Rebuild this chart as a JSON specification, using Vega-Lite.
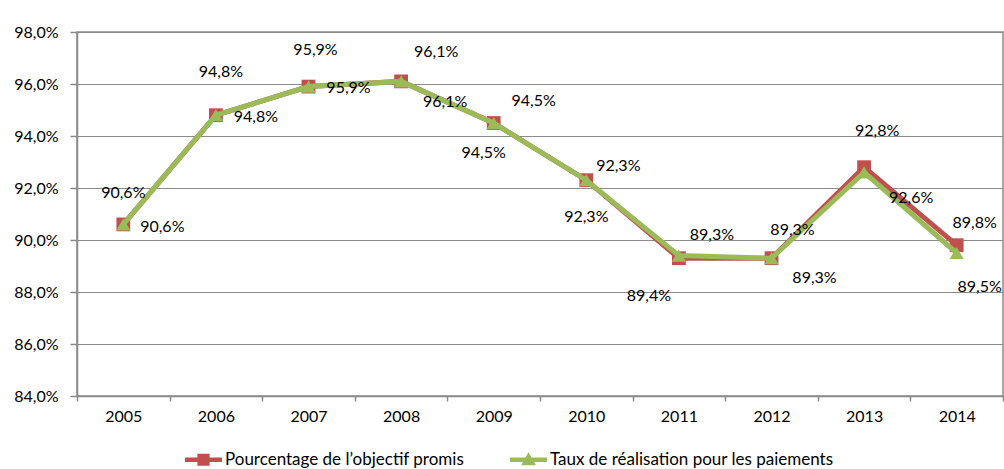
{
  "$schema": "https://vega.github.io/schema/vega-lite/v6.json",
  "autosize": {"type": "none"},
  "width": 926,
  "height": 364,
  "padding": {"left": 77, "top": 32, "right": 1, "bottom": 73},
  "background": "white",
  "config": {
    "locale": {"number": {"decimal": ",", "thousands": " ", "grouping": [3], "currency": ["", " €"], "percent": "%"}},
    "font": "Lato",
    "view": {"stroke": "#8a8a8a", "strokeWidth": 1.5},
    "axis": {
      "labelFont": "Lato", "labelFontSize": 16, "labelColor": "#000000",
      "domainColor": "#8a8a8a", "domainWidth": 1.5, "tickColor": "#8a8a8a", "tickWidth": 1.5,
      "gridColor": "#8a8a8a", "gridWidth": 1.2, "title": null
    },
    "legend": {"labelFont": "Lato", "labelFontSize": 17, "labelColor": "#000000", "labelLimit": 400}
  },
  "datasets": {
    "objectif": [
      {"annee": "2005", "valeur": 0.906},
      {"annee": "2006", "valeur": 0.948},
      {"annee": "2007", "valeur": 0.959},
      {"annee": "2008", "valeur": 0.961},
      {"annee": "2009", "valeur": 0.945},
      {"annee": "2010", "valeur": 0.923},
      {"annee": "2011", "valeur": 0.893},
      {"annee": "2012", "valeur": 0.893},
      {"annee": "2013", "valeur": 0.928},
      {"annee": "2014", "valeur": 0.898}
    ],
    "paiements": [
      {"annee": "2005", "valeur": 0.906},
      {"annee": "2006", "valeur": 0.948},
      {"annee": "2007", "valeur": 0.959},
      {"annee": "2008", "valeur": 0.961},
      {"annee": "2009", "valeur": 0.945},
      {"annee": "2010", "valeur": 0.923},
      {"annee": "2011", "valeur": 0.894},
      {"annee": "2012", "valeur": 0.893},
      {"annee": "2013", "valeur": 0.926},
      {"annee": "2014", "valeur": 0.895}
    ],
    "series": [
      {"serie": "Pourcentage de l’objectif promis"},
      {"serie": "Taux de réalisation pour les paiements"}
    ]
  },
  "encoding": {
    "x": {
      "field": "annee", "type": "ordinal",
      "scale": {"type": "band", "paddingInner": 0, "paddingOuter": 0},
      "axis": {"labelAngle": 0, "tickBand": "extent", "tickSize": 5, "labelPadding": 7, "grid": false}
    },
    "y": {
      "field": "valeur", "type": "quantitative",
      "scale": {"domain": [0.84, 0.98], "nice": false, "zero": false},
      "axis": {"values": [0.84, 0.86, 0.88, 0.9, 0.92, 0.94, 0.96, 0.98], "format": ".1%", "tickSize": 7, "labelPadding": 12, "grid": true}
    },
    "text": {"field": "valeur", "type": "quantitative", "format": ".1%"}
  },
  "layer": [
    {"data": {"name": "objectif"}, "mark": {"type": "line", "color": "#C0504D", "strokeWidth": 5}, "encoding": {}},
    {"data": {"name": "objectif"}, "mark": {"type": "point", "shape": "square", "filled": true, "opacity": 1, "color": "#C0504D", "size": 190}, "encoding": {}},
    {"data": {"name": "paiements"}, "mark": {"type": "line", "color": "#9BBB59", "strokeWidth": 5}, "encoding": {}},
    {"data": {"name": "paiements"}, "mark": {"type": "point", "shape": "triangle-up", "filled": true, "opacity": 1, "color": "#9BBB59", "size": 200}, "encoding": {}},
    {
      "data": {"name": "series"},
      "mark": {"type": "point", "filled": true, "opacity": 0},
      "encoding": {
        "x": null, "y": null, "text": null,
        "color": {
          "field": "serie", "type": "nominal",
          "scale": {"range": ["#C0504D", "#9BBB59"]},
          "legend": {"title": null, "orient": "none", "direction": "horizontal", "legendX": 108, "legendY": 409, "symbolOpacity": 1, "symbolSize": 1369, "symbolStrokeWidth": 0, "labelOffset": 3, "columnPadding": 45, "padding": 0}
        },
        "shape": {
          "field": "serie", "type": "nominal",
          "scale": {"range": [
            "M-1,-0.12H1V0.12H-1Z M-0.33,-0.33H0.33V0.33H-0.33Z",
            "M-1,-0.12H1V0.12H-1Z M0,-0.4L0.4,0.3L-0.4,0.3Z"
          ]},
          "legend": {"title": null, "orient": "none", "direction": "horizontal", "legendX": 108, "legendY": 409, "symbolOpacity": 1, "symbolSize": 1369, "symbolStrokeWidth": 0, "labelOffset": 3, "columnPadding": 45, "padding": 0}
        }
      }
    },
    {"data": {"name": "objectif"}, "transform": [{"filter": "datum.annee == '2005'"}], "mark": {"type": "text", "fontSize": 16, "dx": 0, "dy": -31}},
    {"data": {"name": "objectif"}, "transform": [{"filter": "datum.annee == '2006'"}], "mark": {"type": "text", "fontSize": 16, "dx": 5, "dy": -43}},
    {"data": {"name": "objectif"}, "transform": [{"filter": "datum.annee == '2007'"}], "mark": {"type": "text", "fontSize": 16, "dx": 7, "dy": -37}},
    {"data": {"name": "objectif"}, "transform": [{"filter": "datum.annee == '2008'"}], "mark": {"type": "text", "fontSize": 16, "dx": 35, "dy": -29}},
    {"data": {"name": "objectif"}, "transform": [{"filter": "datum.annee == '2009'"}], "mark": {"type": "text", "fontSize": 16, "dx": 40, "dy": -22}},
    {"data": {"name": "objectif"}, "transform": [{"filter": "datum.annee == '2010'"}], "mark": {"type": "text", "fontSize": 16, "dx": 32, "dy": -14}},
    {"data": {"name": "objectif"}, "transform": [{"filter": "datum.annee == '2011'"}], "mark": {"type": "text", "fontSize": 16, "dx": 33, "dy": -23}},
    {"data": {"name": "objectif"}, "transform": [{"filter": "datum.annee == '2012'"}], "mark": {"type": "text", "fontSize": 16, "dx": 21, "dy": -28}},
    {"data": {"name": "objectif"}, "transform": [{"filter": "datum.annee == '2013'"}], "mark": {"type": "text", "fontSize": 16, "dx": 13, "dy": -36}},
    {"data": {"name": "objectif"}, "transform": [{"filter": "datum.annee == '2014'"}], "mark": {"type": "text", "fontSize": 16, "dx": 18, "dy": -22}},
    {"data": {"name": "paiements"}, "transform": [{"filter": "datum.annee == '2005'"}], "mark": {"type": "text", "fontSize": 16, "dx": 39, "dy": 3}},
    {"data": {"name": "paiements"}, "transform": [{"filter": "datum.annee == '2006'"}], "mark": {"type": "text", "fontSize": 16, "dx": 40, "dy": 2}},
    {"data": {"name": "paiements"}, "transform": [{"filter": "datum.annee == '2007'"}], "mark": {"type": "text", "fontSize": 16, "dx": 40, "dy": 1}},
    {"data": {"name": "paiements"}, "transform": [{"filter": "datum.annee == '2008'"}], "mark": {"type": "text", "fontSize": 16, "dx": 44, "dy": 21}},
    {"data": {"name": "paiements"}, "transform": [{"filter": "datum.annee == '2009'"}], "mark": {"type": "text", "fontSize": 16, "dx": -10, "dy": 30}},
    {"data": {"name": "paiements"}, "transform": [{"filter": "datum.annee == '2010'"}], "mark": {"type": "text", "fontSize": 16, "dx": 0, "dy": 37}},
    {"data": {"name": "paiements"}, "transform": [{"filter": "datum.annee == '2011'"}], "mark": {"type": "text", "fontSize": 16, "dx": -30, "dy": 40}},
    {"data": {"name": "paiements"}, "transform": [{"filter": "datum.annee == '2012'"}], "mark": {"type": "text", "fontSize": 16, "dx": 43, "dy": 20}},
    {"data": {"name": "paiements"}, "transform": [{"filter": "datum.annee == '2013'"}], "mark": {"type": "text", "fontSize": 16, "dx": 47, "dy": 26}},
    {"data": {"name": "paiements"}, "transform": [{"filter": "datum.annee == '2014'"}], "mark": {"type": "text", "fontSize": 16, "dx": 23, "dy": 34}}
  ]
}
